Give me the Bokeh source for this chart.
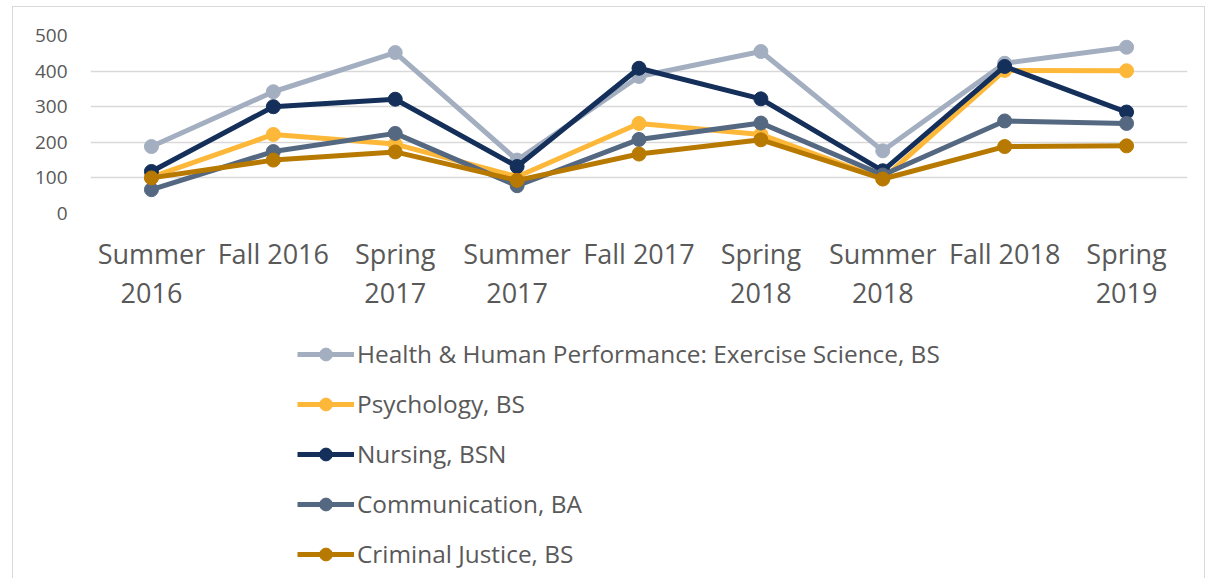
from bokeh.plotting import figure
from bokeh.models import FactorRange, Range1d, Legend, LegendItem, FixedTicker
from bokeh.layouts import column
from bokeh.embed import file_html
from bokeh.resources import INLINE

categories = ["Summer\n2016", "Fall 2016", "Spring\n2017", "Summer\n2017", "Fall 2017",
              "Spring\n2018", "Summer\n2018", "Fall 2018", "Spring\n2019"]

series_names = ["Health & Human Performance: Exercise Science, BS", "Psychology, BS",
                "Nursing, BSN", "Communication, BA", "Criminal Justice, BS"]
health = [188, 342, 452, 150, 385, 455, 176, 422, 467]
psychology = [102, 222, 195, 103, 253, 222, 97, 402, 401]
nursing = [118, 300, 321, 132, 408, 322, 120, 413, 285]
communication = [67, 174, 225, 78, 208, 254, 108, 260, 253]
criminal_justice = [100, 150, 173, 93, 167, 207, 97, 188, 190]
y_ticks = [0, 100, 200, 300, 400, 500]

colors = ["#A3AFC0", "#FDB83A", "#14305A", "#556881", "#B87900"]
series = [health, psychology, nursing, communication, criminal_justice]

FONT = "Open Sans"
TXT = "#595959"
W = 1191

# --- chart ---
p = figure(x_range=FactorRange(factors=categories), y_range=Range1d(0, 500),
           width=W, height=314, output_backend="svg", toolbar_location=None,
           min_border_left=77, min_border_right=17, min_border_top=28, min_border_bottom=108)
p.outline_line_color = None
p.xgrid.grid_line_color = None
p.ygrid.grid_line_color = "#D9D9D9"
p.ygrid.grid_line_width = 1.5
p.x_range.range_padding = 0

p.yaxis.ticker = FixedTicker(ticks=y_ticks)
p.yaxis.axis_line_color = None
p.yaxis.major_tick_line_color = None
p.yaxis.major_tick_out = 0
p.yaxis.minor_tick_line_color = None
p.yaxis.major_label_text_font = FONT
p.yaxis.major_label_text_font_size = "19px"
p.yaxis.major_label_text_color = TXT
p.yaxis.major_label_standoff = 23

p.xaxis.axis_line_color = None
p.xaxis.major_tick_line_color = None
p.xaxis.major_tick_out = 0
p.xaxis.minor_tick_line_color = None
p.xaxis.major_label_text_font = FONT
p.xaxis.major_label_text_font_size = "27px"
p.xaxis.major_label_text_color = TXT
p.xaxis.major_label_text_line_height = 1.07
p.xaxis.major_label_standoff = 21

for vals, c in zip(series, colors):
    p.line(categories, vals, line_color=c, line_width=5)
    p.scatter(categories, vals, size=14, fill_color=c, line_color=c)

# --- legend panel below the chart (same series, drawn outside its visible y window) ---
pl = figure(x_range=p.x_range, y_range=Range1d(1000, 1100), width=W, height=257,
            output_backend="svg", toolbar_location=None,
            x_axis_type=None, y_axis_type=None,
            min_border_left=77, min_border_right=17, min_border_top=0, min_border_bottom=0)
pl.outline_line_color = None
pl.xgrid.grid_line_color = None
pl.ygrid.grid_line_color = None

items = []
for name, vals, c in zip(series_names, series, colors):
    ln = pl.line(categories, vals, line_color=c, line_width=5)
    sc = pl.scatter(categories, vals, size=14, fill_color=c, line_color=c)
    items.append(LegendItem(label=name, renderers=[ln, sc]))

legend = Legend(items=items, orientation="vertical", location=(207, 8),
                glyph_width=57, glyph_height=32, label_height=32,
                label_standoff=3, spacing=17, padding=0, margin=0,
                label_text_font=FONT, label_text_font_size="24.4px", label_text_color=TXT,
                border_line_color=None, background_fill_alpha=0)
pl.add_layout(legend, "center")

layout = column(p, pl, spacing=0)
layout.margin = (6, 0, 0, 12)
layout.styles = {"border-top": "1px solid #D9D9D9", "border-left": "1px solid #D9D9D9",
                 "border-right": "1px solid #D9D9D9"}

open("out.html", "w").write(file_html(layout, INLINE))
